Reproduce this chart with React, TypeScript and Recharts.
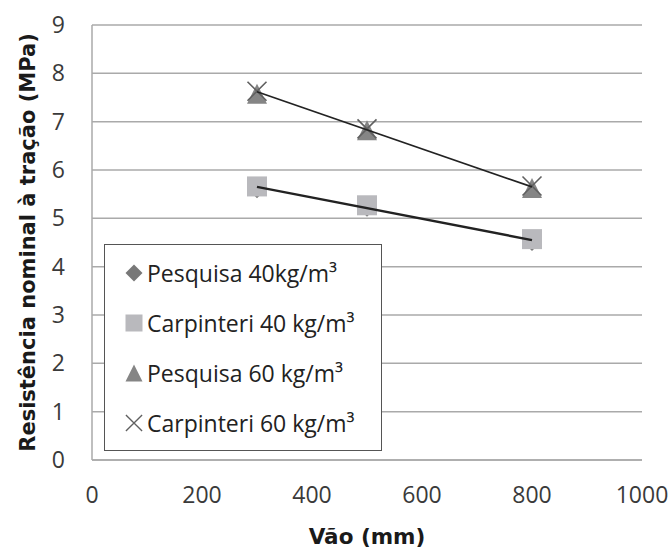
import React from "react";
import {
  ScatterChart,
  Scatter,
  XAxis,
  YAxis,
  CartesianGrid,
  Legend,
} from "recharts";

// vão (mm)
const VAOS = [300, 500, 800];

// resistência nominal à tração (MPa)
const PESQUISA_40 = [5.62, 5.24, 4.53];
const CARPINTERI_40 = [5.66, 5.27, 4.57];
const PESQUISA_60 = [7.58, 6.82, 5.63];
const CARPINTERI_60 = [7.63, 6.85, 5.67];

// linhas de tendência (extremos)
const TREND_X = [300, 800];
const TREND_40 = [5.65, 4.55];
const TREND_60 = [7.62, 5.65];

const X_TICKS = [0, 200, 400, 600, 800, 1000];
const Y_TICKS = [0, 1, 2, 3, 4, 5, 6, 7, 8, 9];

const toPoints = (xs: number[], ys: number[]) => xs.map((x, i) => ({ x, y: ys[i] }));

const TICK_FONT = "'Open Sans', 'Segoe UI', sans-serif";
const TITLE_FONT = "'DejaVu Sans', Verdana, sans-serif";

type ShapeProps = { cx?: number; cy?: number; fill?: string };

function Diamond({ cx = 0, cy = 0, fill }: ShapeProps) {
  const r = 10;
  return <path d={`M${cx},${cy - r}L${cx + r},${cy}L${cx},${cy + r}L${cx - r},${cy}Z`} fill={fill} />;
}

function Square({ cx = 0, cy = 0, fill }: ShapeProps) {
  const r = 10;
  return <rect x={cx - r} y={cy - r} width={2 * r} height={2 * r} fill={fill} />;
}

function Triangle({ cx = 0, cy = 0, fill }: ShapeProps) {
  const r = 10;
  return <path d={`M${cx},${cy - r}L${cx + r},${cy + r}L${cx - r},${cy + r}Z`} fill={fill} />;
}

function Cross({ cx = 0, cy = 0, fill }: ShapeProps) {
  const r = 9.5;
  return (
    <path
      d={`M${cx - r},${cy - r}L${cx + r},${cy + r}M${cx + r},${cy - r}L${cx - r},${cy + r}`}
      stroke={fill}
      strokeWidth={1.6}
      fill="none"
    />
  );
}

const NoDot = () => <g />;

const SERIES = [
  { name: "Pesquisa 40kg/m³", values: PESQUISA_40, color: "#787878", Shape: Diamond },
  { name: "Carpinteri 40 kg/m³", values: CARPINTERI_40, color: "#b9b9bd", Shape: Square },
  { name: "Pesquisa 60 kg/m³", values: PESQUISA_60, color: "#858585", Shape: Triangle },
  { name: "Carpinteri 60 kg/m³", values: CARPINTERI_60, color: "#606060", Shape: Cross },
];

function LegendBox() {
  return (
    <div
      style={{
        width: 276,
        height: 202,
        border: "1.5px solid #555",
        background: "#fff",
        boxSizing: "content-box",
        paddingTop: 3,
      }}
    >
      {SERIES.map(({ name, color, Shape }) => (
        <div key={name} style={{ display: "flex", alignItems: "center", height: 50 }}>
          <svg width={42} height={24} style={{ flex: "none" }}>
            <g transform="translate(29,12) scale(0.85) translate(-29,-12)">
              <Shape cx={29} cy={12} fill={color} />
            </g>
          </svg>
          <span style={{ fontFamily: TICK_FONT, fontSize: 23, color: "#222", lineHeight: 1 }}>
            {name}
          </span>
        </div>
      ))}
    </div>
  );
}

export default function App() {
  return (
    <div style={{ width: 672, height: 550, position: "relative", background: "#fff" }}>
      <style>{`body{margin:0}`}</style>
      <ScatterChart width={672} height={550} margin={{ top: 25, right: 30, bottom: 30, left: 32 }}>
        <CartesianGrid vertical={false} stroke="#aaaaaa" strokeWidth={1.5} />
        <XAxis
          type="number"
          dataKey="x"
          domain={[0, 1000]}
          ticks={X_TICKS}
          height={60}
          tickLine={false}
          tickSize={0}
          tickMargin={27}
          axisLine={{ stroke: "#aaaaaa", strokeWidth: 1.5 }}
          tick={{ fontFamily: TICK_FONT, fontSize: 23, fill: "#3a3a3a" }}
          label={{
            content: () => (
              <text
                x={367}
                y={544}
                textAnchor="middle"
                fontFamily={TITLE_FONT}
                fontWeight="bold"
                fontSize={21.5}
                fill="#1a1a1a"
              >
                Vão (mm)
              </text>
            ),
          }}
        />
        <YAxis
          type="number"
          dataKey="y"
          domain={[0, 9]}
          ticks={Y_TICKS}
          width={60}
          tickLine={false}
          tickSize={0}
          tickMargin={27}
          axisLine={{ stroke: "#aaaaaa", strokeWidth: 1.5 }}
          tick={{ fontFamily: TICK_FONT, fontSize: 23, fill: "#3a3a3a" }}
          label={{
            content: () => (
              <text
                x={0}
                y={0}
                transform="translate(35,242.5) rotate(-90)"
                textAnchor="middle"
                fontFamily={TITLE_FONT}
                fontWeight="bold"
                fontSize={21}
                fill="#1a1a1a"
              >
                Resistência nominal à tração (MPa)
              </text>
            ),
          }}
        />
        <Legend
          layout="vertical"
          align="center"
          verticalAlign="middle"
          content={() => <LegendBox />}
          wrapperStyle={{ left: 104, top: 244, width: "auto", height: "auto" }}
        />
        {SERIES.map(({ name, values, color, Shape }) => (
          <Scatter
            key={name}
            name={name}
            data={toPoints(VAOS, values)}
            fill={color}
            shape={(p: ShapeProps) => <Shape cx={p.cx} cy={p.cy} fill={color} />}
            isAnimationActive={false}
          />
        ))}
        <Scatter
          name="tendência 40"
          data={toPoints(TREND_X, TREND_40)}
          line={{ stroke: "#222", strokeWidth: 2.4 }}
          shape={NoDot}
          legendType="none"
          isAnimationActive={false}
        />
        <Scatter
          name="tendência 60"
          data={toPoints(TREND_X, TREND_60)}
          line={{ stroke: "#222", strokeWidth: 1.7 }}
          shape={NoDot}
          legendType="none"
          isAnimationActive={false}
        />
      </ScatterChart>
    </div>
  );
}
